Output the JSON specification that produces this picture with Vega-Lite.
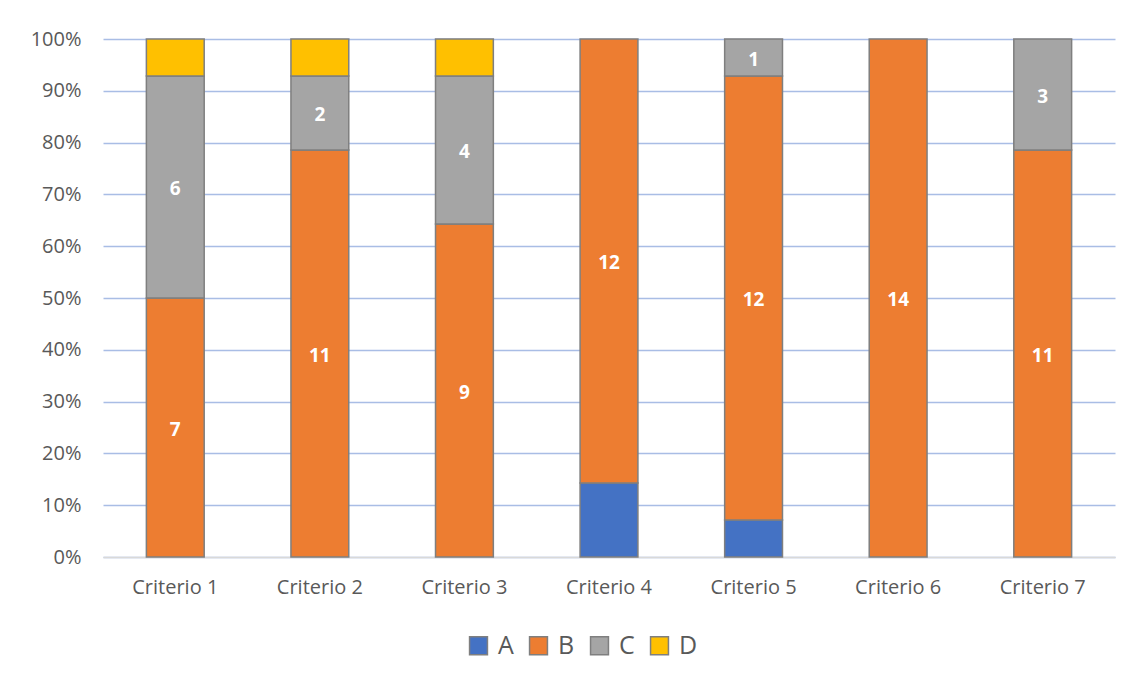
{
  "$schema": "https://vega.github.io/schema/vega-lite/v6.json",
  "width": 1012,
  "height": 518,
  "autosize": {"type": "none"},
  "padding": {"left": 103, "top": 39, "right": 22, "bottom": 127},
  "background": "white",
  "config": {
    "view": {"stroke": null},
    "font": "Open Sans"
  },
  "data": {
    "values": [
      {"criterio": "Criterio 1", "serie": "B", "valor": 7},
      {"criterio": "Criterio 1", "serie": "C", "valor": 6},
      {"criterio": "Criterio 1", "serie": "D", "valor": 1},
      {"criterio": "Criterio 2", "serie": "B", "valor": 11},
      {"criterio": "Criterio 2", "serie": "C", "valor": 2},
      {"criterio": "Criterio 2", "serie": "D", "valor": 1},
      {"criterio": "Criterio 3", "serie": "B", "valor": 9},
      {"criterio": "Criterio 3", "serie": "C", "valor": 4},
      {"criterio": "Criterio 3", "serie": "D", "valor": 1},
      {"criterio": "Criterio 4", "serie": "A", "valor": 2},
      {"criterio": "Criterio 4", "serie": "B", "valor": 12},
      {"criterio": "Criterio 5", "serie": "A", "valor": 1},
      {"criterio": "Criterio 5", "serie": "B", "valor": 12},
      {"criterio": "Criterio 5", "serie": "C", "valor": 1},
      {"criterio": "Criterio 6", "serie": "B", "valor": 14},
      {"criterio": "Criterio 7", "serie": "B", "valor": 11},
      {"criterio": "Criterio 7", "serie": "C", "valor": 3}
    ]
  },
  "transform": [
    {"stack": "valor", "groupby": ["criterio"], "sort": [{"field": "serie", "order": "ascending"}], "offset": "normalize", "as": ["y0", "y1"]},
    {"calculate": "(datum.y0 + datum.y1) / 2", "as": "ymid"}
  ],
  "encoding": {
    "x": {
      "field": "criterio",
      "type": "nominal",
      "scale": {"paddingInner": 0.6, "paddingOuter": 0.3},
      "axis": {
        "title": null,
        "labelAngle": 0,
        "labelFontSize": 20,
        "labelColor": "#595959",
        "labelPadding": 20,
        "ticks": false,
        "domainColor": "#D9D9D9",
        "domainWidth": 1.5,
        "grid": false
      }
    }
  },
  "layer": [
    {
      "mark": {"type": "bar", "stroke": "#7F7F7F", "strokeWidth": 1.5},
      "encoding": {
        "y": {
          "field": "y0",
          "type": "quantitative",
          "scale": {"domain": [0, 1], "nice": false},
          "axis": {
            "title": null,
            "format": "%",
            "values": [0, 0.1, 0.2, 0.3, 0.4, 0.5, 0.6, 0.7, 0.8, 0.9, 1],
            "labelFontSize": 20,
            "labelColor": "#595959",
            "labelPadding": 22,
            "ticks": false,
            "domain": false,
            "gridColor": "#A9BDE5",
            "gridWidth": 1.3
          }
        },
        "y2": {"field": "y1"},
        "color": {
          "field": "serie",
          "type": "nominal",
          "scale": {"domain": ["A", "B", "C", "D"], "range": ["#4472C4", "#ED7D31", "#A5A5A5", "#FFC000"]},
          "legend": {
            "title": null,
            "orient": "none",
            "direction": "horizontal",
            "legendX": 363,
            "legendY": 594,
            "symbolType": "square",
            "symbolSize": 320,
            "symbolStrokeColor": "#7F7F7F",
            "symbolStrokeWidth": 1.5,
            "labelFontSize": 25,
            "labelColor": "#595959",
            "labelOffset": 7,
            "columnPadding": 12
          }
        }
      }
    },
    {
      "transform": [{"filter": "datum.serie == 'B' || datum.serie == 'C'"}],
      "mark": {"type": "text", "color": "white", "fontWeight": "bold", "fontSize": 19, "baseline": "middle", "dy": 2},
      "encoding": {
        "y": {"field": "ymid", "type": "quantitative"},
        "text": {"field": "valor", "type": "quantitative"}
      }
    }
  ]
}
